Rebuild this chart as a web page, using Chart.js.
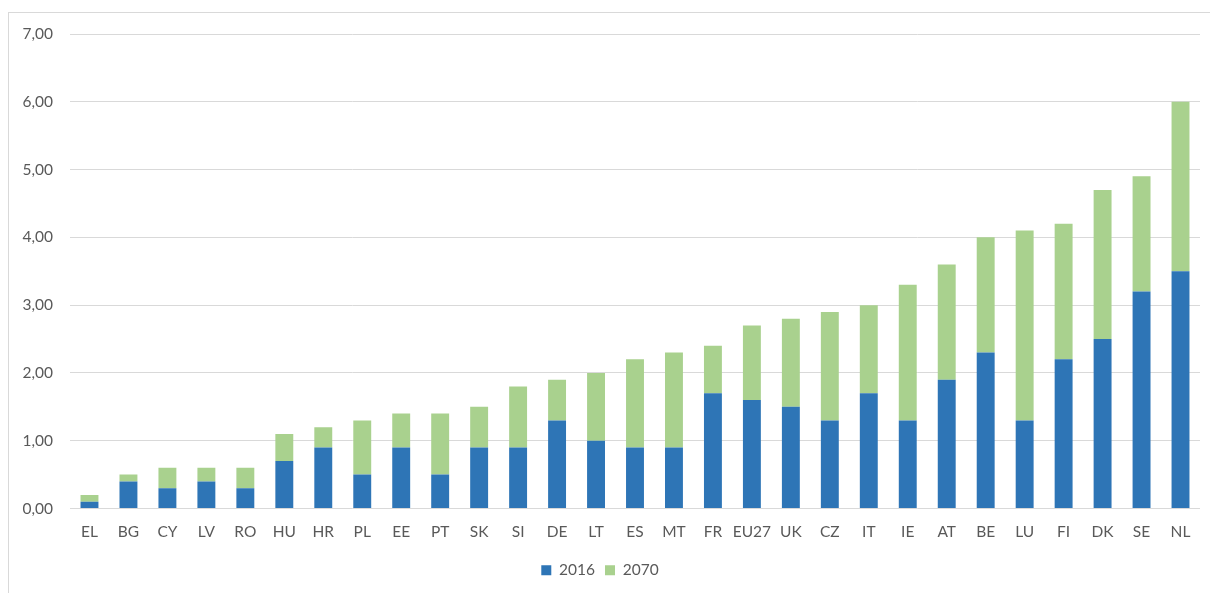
<!DOCTYPE html>
<html>
<head>
<meta charset="utf-8">
<script src="https://cdn.jsdelivr.net/npm/chart.js@4/dist/chart.umd.min.js"></script>
<style>
  html, body { margin: 0; padding: 0; background: #fff; }
  #box { width: 1210px; height: 593px; }
</style>
</head>
<body>
<div id="box"><canvas id="chart" width="1210" height="593"></canvas></div>
<script>
// страны по возрастанию итогового значения
const countries = ["EL", "BG", "CY", "LV", "RO", "HU", "HR", "PL", "EE", "PT", "SK", "SI", "DE", "LT",
  "ES", "MT", "FR", "EU27", "UK", "CZ", "IT", "IE", "AT", "BE", "LU", "FI", "DK", "SE", "NL"];

// 2016 (синий)
const values2016 = [0.1, 0.4, 0.3, 0.4, 0.3, 0.7, 0.9, 0.5, 0.9, 0.5, 0.9, 0.9, 1.3, 1.0,
  0.9, 0.9, 1.7, 1.6, 1.5, 1.3, 1.7, 1.3, 1.9, 2.3, 1.3, 2.2, 2.5, 3.2, 3.5];

// 2070 (зелёный), добавка поверх 2016
const values2070 = [0.1, 0.1, 0.3, 0.2, 0.3, 0.4, 0.3, 0.8, 0.5, 0.9, 0.6, 0.9, 0.6, 1.0,
  1.3, 1.4, 0.7, 1.1, 1.3, 1.6, 1.3, 2.0, 1.7, 1.7, 2.8, 2.0, 2.2, 1.7, 2.5];

const yTicks = [0, 1, 2, 3, 4, 5, 6, 7];

const COLORS = {
  blue:  "#2e75b6",
  green: "#a9d18e",
  grid:  "#d9d9d9",
  text:  "#595959"
};

const FONT = { family: "Lato, 'Open Sans', sans-serif", size: 15.5 };

// рамка вокруг области диаграммы
const framePlugin = {
  id: "frame",
  beforeDraw(chart) {
    const ctx = chart.ctx;
    ctx.save();
    ctx.fillStyle = "#fff";
    ctx.fillRect(0, 0, chart.width, chart.height);
    ctx.strokeStyle = COLORS.grid;
    ctx.lineWidth = 1;
    ctx.strokeRect(8.5, 12.5, chart.width + 20, chart.height + 20);
    ctx.restore();
  }
};

new Chart(document.getElementById("chart"), {
  type: "bar",
  data: {
    labels: countries,
    datasets: [
      {
        label: "2016",
        data: values2016,
        backgroundColor: COLORS.blue,
        barPercentage: 0.46,
        categoryPercentage: 1
      },
      {
        label: "2070",
        data: values2070,
        backgroundColor: COLORS.green,
        barPercentage: 0.46,
        categoryPercentage: 1
      }
    ]
  },
  options: {
    responsive: false,
    animation: false,
    layout: { padding: { left: 0, right: 10, top: 34, bottom: 5 } },
    plugins: {
      tooltip: { enabled: false },
      legend: {
        position: "bottom",
        labels: {
          boxWidth: 10,
          boxHeight: 10,
          padding: 10,
          color: COLORS.text,
          font: FONT
        }
      }
    },
    scales: {
      x: {
        stacked: true,
        grid: { display: false, drawTicks: false },
        border: { display: false },
        ticks: { color: COLORS.text, font: FONT, padding: 14, maxRotation: 0, autoSkip: false },
        afterFit(scale) { scale.height = 44; }
      },
      y: {
        stacked: true,
        min: 0,
        max: 7,
        afterBuildTicks(scale) { scale.ticks = yTicks.map(v => ({ value: v })); },
        grid: { color: COLORS.grid, lineWidth: 1, drawTicks: false },
        border: { display: false },
        ticks: {
          color: COLORS.text,
          font: FONT,
          padding: 17,
          callback: v => v.toFixed(2).replace(".", ",")
        },
        afterFit(scale) { scale.width = 70; }
      }
    }
  },
  plugins: [framePlugin]
});
</script>
</body>
</html>
